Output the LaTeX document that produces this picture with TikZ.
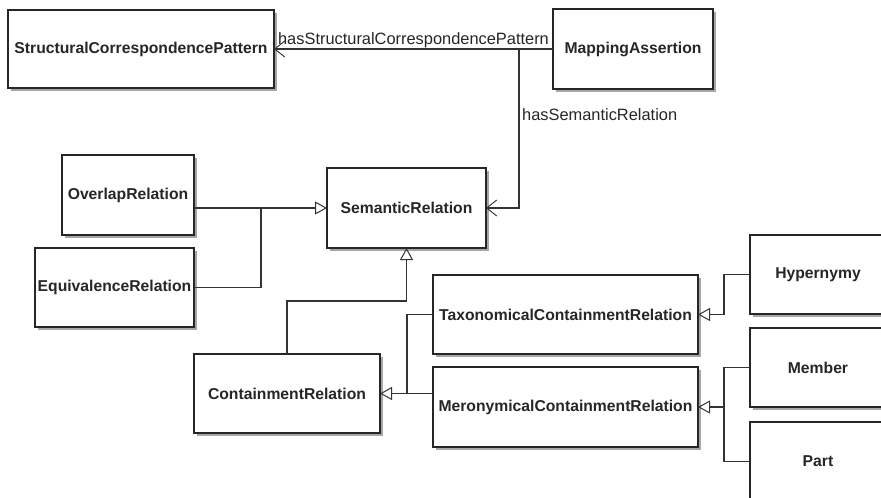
\documentclass[tikz,border=0pt]{standalone}
\usepackage{fontspec}
\setmainfont{Liberation Sans}
\usetikzlibrary{arrows.meta,shadows}

\tikzset{
  cls/.style={draw=black!85, line width=1.1pt, fill=white, inner sep=0pt, outer sep=0pt,
    font=\fontsize{15.7}{18}\selectfont\bfseries, text=black!85,
    drop shadow={shadow xshift=3pt, shadow yshift=-3pt, fill=black!35, opacity=1}},
  link/.style={draw=black!80, line width=1.1pt},
  inh/.style={link, -{Triangle[open, length=12pt, width=13pt, fill=white, line width=1pt]}},
  assoc/.style={link, -{Straight Barb[length=10pt, width=16pt, line width=0.9pt]}},
  lbl/.style={font=\fontsize{16.4}{19}\selectfont, text=black!85, inner sep=1pt}
}

\begin{document}
\begin{tikzpicture}[x=1pt, y=-1pt]
  \fill[white] (0,0) rectangle (881,498);
  \clip (0,0) rectangle (881,498);

  % classes
  \node[cls, minimum width=266pt, minimum height=78pt] (scp)  at (141,49)      {StructuralCorrespondencePattern};
  \node[cls, minimum width=160pt, minimum height=80pt] (ma)   at (633,49)      {MappingAssertion};
  \node[cls, minimum width=132pt, minimum height=80pt] (ovl)  at (128,195)     {OverlapRelation};
  \node[cls, minimum width=159pt, minimum height=79pt] (eqv)  at (114.5,287.5) {EquivalenceRelation};
  \node[cls, minimum width=159pt, minimum height=80pt] (sem)  at (406.5,208)   {SemanticRelation};
  \node[cls, minimum width=186pt, minimum height=79pt] (cont) at (287,393.5)   {ContainmentRelation};
  \node[cls, minimum width=265pt, minimum height=79pt] (tax)  at (565.5,314.5) {TaxonomicalContainmentRelation};
  \node[cls, minimum width=265pt, minimum height=80pt] (mer)  at (565.5,407)   {MeronymicalContainmentRelation};
  \node[cls, minimum width=136pt, minimum height=79pt] (hyp)  at (818,274.5)   {Hypernymy};
  \node[cls, minimum width=136pt, minimum height=79pt] (mem)  at (818,367.5)   {Member};
  \node[cls, minimum width=136pt, minimum height=79pt] (part) at (818,461.5)   {Part};

  % junction points of the routed connectors
  \coordinate (jma)  at (519,49);
  \coordinate (jsem) at (261,208);
  \coordinate (jcon) at (406.5,301);
  \coordinate (jcr)  at (407,393.5);
  \coordinate (jtax) at (724,314.5);
  \coordinate (jmer) at (724,407);

  % associations
  \draw[assoc] (ma.west) -- node[lbl, above, pos=0.5] {hasStructuralCorrespondencePattern} (scp.east);
  \draw[assoc] (jma) |- (sem.east);
  \node[lbl, anchor=west] (lsem) at (521,115) {hasSemanticRelation};

  % generalisations
  \draw[inh] (ovl.east |- sem.west) -- (sem.west);
  \draw[link] (eqv.east) -| (jsem);
  \draw[inh] (cont.north) |- (jcon) -- (sem.south);
  \draw[inh] (mer.west |- cont.east) -- (cont.east);
  \draw[link] (tax.west) -| (jcr);
  \draw[inh] (hyp.west) -| (jtax) -- (tax.east);
  \draw[link] (mem.west) -| (jmer);
  \draw[link] (part.west) -| (jmer);
  \draw[inh] (jmer) -- (mer.east);
\end{tikzpicture}
\end{document}
